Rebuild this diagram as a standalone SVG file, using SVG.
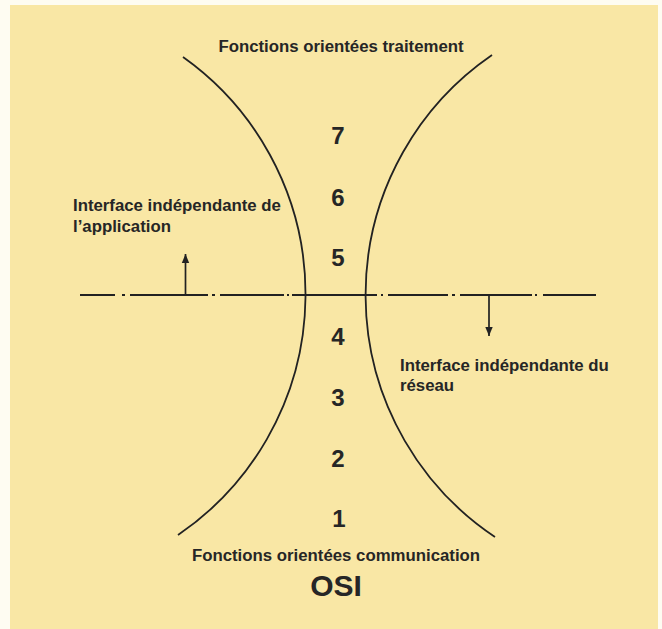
<svg xmlns="http://www.w3.org/2000/svg" width="662" height="629" viewBox="0 0 662 629">
<defs>
<style>
.t{font-family:"Liberation Sans",Arial,sans-serif;font-weight:bold;fill:#262626}
.lab{font-size:16.8px}
.num{font-size:24px;text-anchor:middle}
.c{fill:none;stroke:#222;stroke-width:1.8}
.ax{fill:none;stroke:#222;stroke-width:2}
</style>
<marker id="ah" viewBox="0 0 9 16" refX="9" refY="8" markerWidth="9" markerHeight="16" markerUnits="userSpaceOnUse" orient="auto">
<path d="M0,4.3 L9,8 L0,11.7 Z" fill="#222"/>
</marker>
</defs>
<rect x="0" y="0" width="662" height="629" fill="#fefcf2"/>
<rect x="10" y="5" width="648" height="624" fill="#f9e7a5"/>
<g id="connectors">
<path id="left-curve" class="c" d="M183,57 A291,291 0 0 1 178,535"/>
<path id="right-curve" class="c" d="M492,55 A291,291 0 0 0 495,537"/>
<path id="axis" class="ax" d="M80,295H115M122,295H125M130,295H208M212,295H215M220,295H284M287,295H289M292,295H377M381,295H383M388,295H448M452,295H455M460,295H532M535,295H537M543,295H596"/>
<line id="arrow-up" class="ax" x1="185.5" y1="295" x2="185.5" y2="254" marker-end="url(#ah)" style="stroke-width:1.7"/>
<line id="arrow-down" class="ax" x1="489" y1="295" x2="489" y2="336" marker-end="url(#ah)" style="stroke-width:1.7"/>
</g>
<g id="title-top"><text class="t lab" x="341" y="52" text-anchor="middle">Fonctions orientées traitement</text></g>
<g id="layer-7"><text class="t num" x="338" y="144">7</text></g>
<g id="layer-6"><text class="t num" x="338" y="206">6</text></g>
<g id="layer-5"><text class="t num" x="338" y="266">5</text></g>
<g id="layer-4"><text class="t num" x="338" y="345">4</text></g>
<g id="layer-3"><text class="t num" x="338" y="406">3</text></g>
<g id="layer-2"><text class="t num" x="338" y="467">2</text></g>
<g id="layer-1"><text class="t num" x="339" y="527">1</text></g>
<g id="label-application"><text class="t lab" x="73" y="211">Interface indépendante de</text><text class="t lab" x="73" y="232">l’application</text></g>
<g id="label-reseau"><text class="t lab" x="400" y="371">Interface indépendante du</text><text class="t lab" x="400" y="391">réseau</text></g>
<g id="title-bottom"><text class="t lab" x="336" y="561" text-anchor="middle">Fonctions orientées communication</text><text class="t" x="336" y="596" text-anchor="middle" style="font-size:30px">OSI</text></g>
</svg>
